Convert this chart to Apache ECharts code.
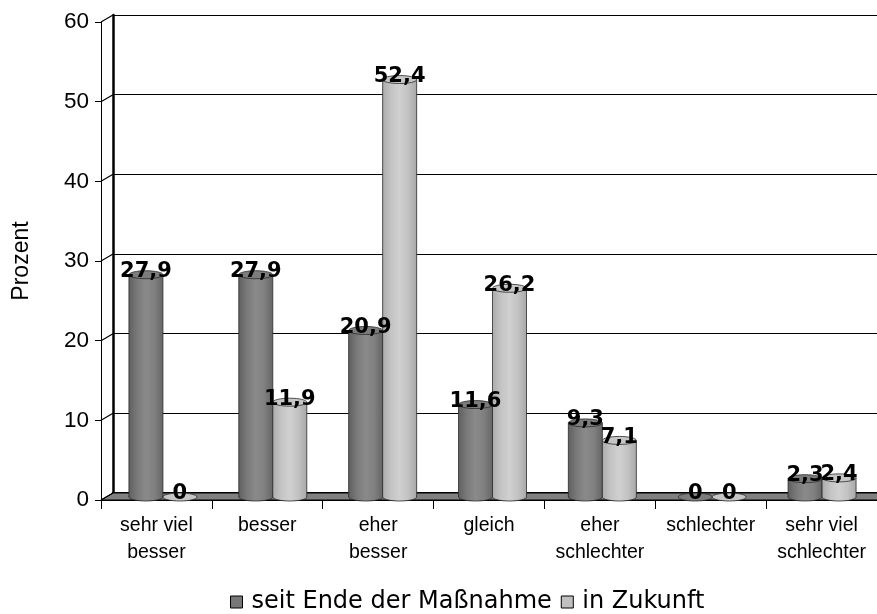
<!DOCTYPE html>
<html>
<head>
<meta charset="utf-8">
<script src="https://cdn.jsdelivr.net/npm/echarts@6/dist/echarts.min.js"></script>
<style>
  html, body { margin: 0; padding: 0; background: #fff; }
  #chart { width: 877px; height: 614px; }
</style>
</head>
<body>
<div id="chart"></div>
<script>
// Kategorien und Werte (Prozent)
const categories = ['sehr viel\nbesser', 'besser', 'eher\nbesser', 'gleich', 'eher\nschlechter', 'schlechter', 'sehr viel\nschlechter'];
const seitEnde = [27.9, 27.9, 20.9, 11.6, 9.3, 0, 2.3];
const inZukunft = [0, 11.9, 52.4, 26.2, 7.1, 0, 2.4];
const yTicks = [0, 10, 20, 30, 40, 50, 60];

const DEPTH_X = 12, DEPTH_Y = 7;

const chart = echarts.init(document.getElementById('chart'));

function grad(stops) {
  return new echarts.graphic.LinearGradient(0, 0, 1, 0,
    stops.map((c, i) => ({ offset: i / (stops.length - 1), color: c })));
}
const darkBody = ['#606060', '#7a7a7a', '#8a8a8a', '#808080', '#666666'];
const lightBody = ['#acacac', '#c4c4c4', '#d0d0d0', '#c2c2c2', '#a8a8a8'];

// Zylinder zeichnen
function cylinder(side, body, topColor) {
  return function (params, api) {
    const cat = api.value(0), v = api.value(1);
    const base = api.coord([cat, 0]);
    const top = api.coord([cat, v]);
    const bw = 34, rx = bw / 2, ry = 4;
    const cx = base[0] + side * rx;
    const x0 = cx - rx;
    const children = [];
    const stroke = { stroke: '#2a2a2a', lineWidth: 0.8 };
    if (v > 0) {
      children.push({ type: 'ellipse', shape: { cx: cx, cy: base[1], rx: rx, ry: ry },
        style: Object.assign({ fill: grad(body) }, stroke) });
      children.push({ type: 'rect', shape: { x: x0, y: top[1], width: bw, height: base[1] - top[1] },
        style: { fill: grad(body) } });
      children.push({ type: 'line', shape: { x1: x0, y1: top[1], x2: x0, y2: base[1] }, style: stroke });
      children.push({ type: 'line', shape: { x1: x0 + bw, y1: top[1], x2: x0 + bw, y2: base[1] }, style: stroke });
      children.push({ type: 'ellipse', shape: { cx: cx, cy: top[1], rx: rx, ry: ry },
        style: Object.assign({ fill: topColor }, stroke) });
    } else {
      children.push({ type: 'ellipse', shape: { cx: cx, cy: base[1], rx: rx, ry: ry },
        style: Object.assign({ fill: topColor }, stroke) });
    }
    children.push({
      type: 'text', z2: 100,
      style: {
        x: cx, y: top[1] - 3, text: String(v).replace('.', ','),
        align: 'center', verticalAlign: 'middle',
        font: 'bold 21px "DejaVu Sans", Verdana, sans-serif', fill: '#000'
      }
    });
    return { type: 'group', children: children };
  };
}

const option = {
  animation: false,
  backgroundColor: '#fff',
  grid: [
    { left: 101, top: 22, width: 776, height: 478 },                       // Vorderseite
    { left: 101 + DEPTH_X, top: 22 - DEPTH_Y, width: 776, height: 478 },   // Rückwand
    { left: 108, top: 19, width: 776, height: 478 }                        // Säulen
  ],
  xAxis: [
    { gridIndex: 0, type: 'category', data: categories, boundaryGap: true,
      axisLine: { lineStyle: { color: '#000', width: 1 } },
      axisTick: { show: true, interval: 0, length: 9, lineStyle: { color: '#000' } },
      axisLabel: { interval: 0, color: '#000', fontSize: 19.5, lineHeight: 27, margin: 12,
        fontFamily: '"Liberation Sans", Arial, sans-serif' } },
    { gridIndex: 1, type: 'category', data: categories, position: 'top',
      axisLine: { show: true, lineStyle: { color: '#000', width: 3 } },
      axisTick: { show: false }, axisLabel: { show: false } },
    { gridIndex: 2, type: 'category', data: categories, show: false }
  ],
  yAxis: [
    { gridIndex: 0, type: 'value', min: 0, max: 60, interval: 10,
      name: 'Prozent', nameLocation: 'middle', nameGap: 68, nameRotate: 90,
      nameTextStyle: { color: '#000', fontSize: 23, fontFamily: '"Liberation Sans", Arial, sans-serif' },
      axisLine: { show: true, lineStyle: { color: '#000', width: 1 } },
      axisTick: { show: true, length: 6, lineStyle: { color: '#000' } },
      axisLabel: { color: '#000', fontSize: 22.5, margin: 12, fontFamily: '"Liberation Sans", Arial, sans-serif' },
      splitLine: { show: false } },
    { gridIndex: 1, type: 'value', min: 0, max: 60, interval: 10,
      axisLine: { show: true, lineStyle: { color: '#000', width: 2.5 } },
      axisTick: { show: false }, axisLabel: { show: false },
      splitLine: { show: true, lineStyle: { color: '#000', width: 1.2 } } },
    { gridIndex: 2, type: 'value', min: 0, max: 60, interval: 10, show: false }
  ],
  legend: {
    data: ['seit Ende der Maßnahme', 'in Zukunft'],
    bottom: 0, padding: 0, left: 230, icon: 'rect', itemWidth: 12, itemHeight: 12, itemGap: 9,
    itemStyle: { borderColor: '#000', borderWidth: 1 },
    textStyle: { color: '#000', fontSize: 24, fontFamily: '"DejaVu Sans", Verdana, sans-serif', padding: [0, 0, 0, 4] }
  },
  series: [
    { // Boden
      type: 'custom', xAxisIndex: 0, yAxisIndex: 0, silent: true, z: 1,
      data: [[0, 0]],
      renderItem: function (params, api) {
        const cs = params.coordSys;
        const y0 = api.coord([0, 0])[1];
        const x1 = cs.x + cs.width;
        return { type: 'polygon',
          shape: { points: [[cs.x, y0], [x1, y0], [x1 + DEPTH_X, y0 - DEPTH_Y], [cs.x + DEPTH_X, y0 - DEPTH_Y]] },
          style: { fill: '#808080', stroke: '#000', lineWidth: 1 } };
      }
    },
    { // Diagonalen an der Wand
      type: 'custom', xAxisIndex: 0, yAxisIndex: 0, silent: true, z: 1,
      data: yTicks.map(t => [0, t]),
      renderItem: function (params, api) {
        const cs = params.coordSys;
        const y = api.coord([0, api.value(1)])[1];
        return { type: 'line', shape: { x1: cs.x, y1: y, x2: cs.x + DEPTH_X, y2: y - DEPTH_Y },
          style: { stroke: '#000', lineWidth: 1.2 } };
      }
    },
    {
      name: 'seit Ende der Maßnahme', type: 'custom', xAxisIndex: 2, yAxisIndex: 2, z: 3,
      itemStyle: { color: '#777777' },
      data: seitEnde.map((v, i) => [i, v]),
      renderItem: cylinder(-1, darkBody, '#7c7c7c')
    },
    {
      name: 'in Zukunft', type: 'custom', xAxisIndex: 2, yAxisIndex: 2, z: 3,
      itemStyle: { color: '#c0c0c0' },
      data: inZukunft.map((v, i) => [i, v]),
      renderItem: cylinder(1, lightBody, '#c6c6c6')
    }
  ]
};

chart.setOption(option);
</script>
</body>
</html>
